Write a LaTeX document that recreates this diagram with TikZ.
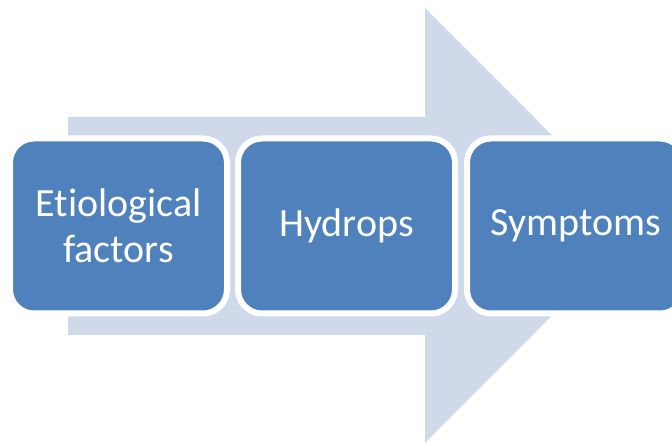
\documentclass[tikz,border=0pt]{standalone}
\usepackage{fontspec}
\setmainfont[Ligatures=NoCommon]{Carlito}
\usetikzlibrary{positioning}

\definecolor{stageblue}{HTML}{4F81BD}
\definecolor{flowgrey}{HTML}{D0D9E9}

\tikzset{
    stage/.style={draw=white, line width=6pt, fill=stageblue, rounded corners=24pt,
        minimum width=217pt, minimum height=175pt, text=white, align=center,
        font=\fontsize{40}{46}\selectfont},
}

\begin{document}
\begin{tikzpicture}[x=1pt, y=-1pt]
                    \useasboundingbox (0, 0) rectangle (672, 443);
                    % background arrow
                    \fill[flowgrey](68, 117)--(425, 117)--(425, 8)--(642, 225.5)--(425, 443)--(425, 335)--(68, 335)--cycle;
                    \node[stage](etio) at (118.5, 226){Etiological\\factors};
                    \node[stage, right=5pt of etio](hydrops){Hydrops};
                    \node[stage, right=6pt of hydrops](sympt){Symptoms};
                \end{tikzpicture}
\end{document}
